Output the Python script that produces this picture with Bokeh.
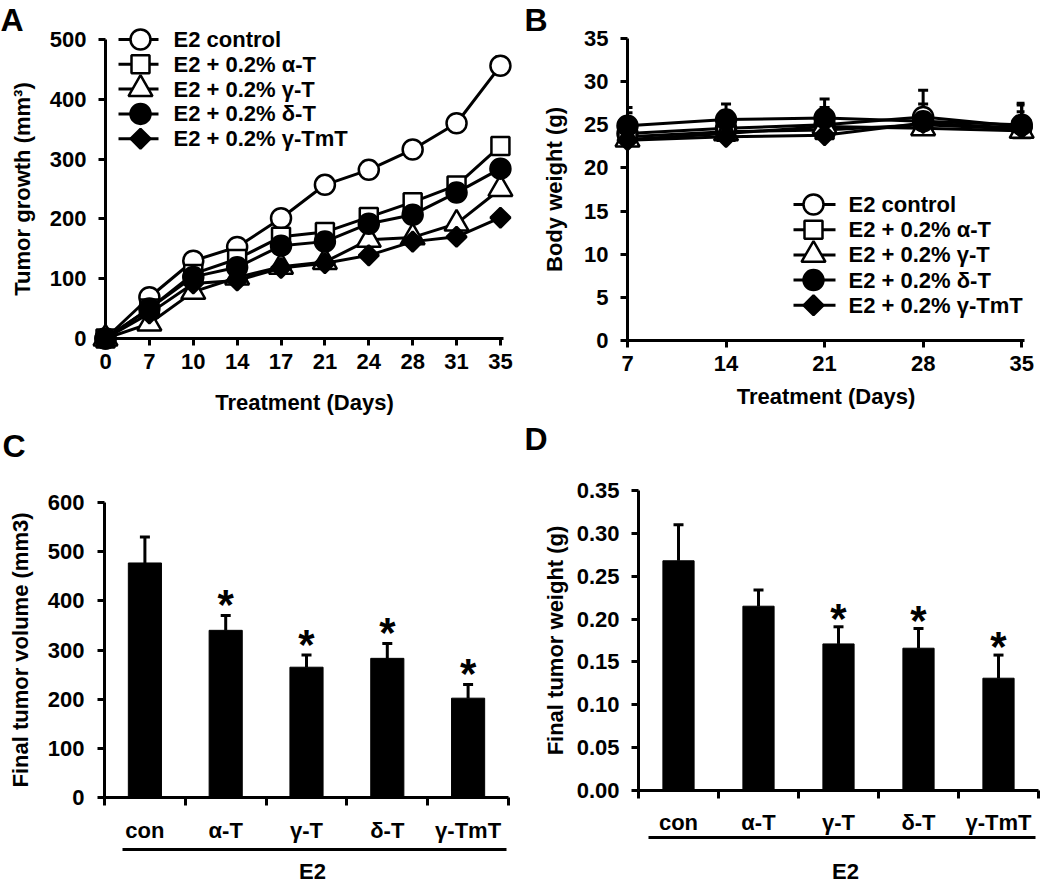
from bokeh.plotting import figure
from bokeh.layouts import column, row
from bokeh.models import (Range1d, FixedTicker, Whisker, TeeHead, ColumnDataSource,
                          NumeralTickFormatter)
from bokeh.core.properties import value
from bokeh.embed import file_html
from bokeh.resources import INLINE
import math

FONT = "Liberation Sans"

# ---------------- data ----------------
series_labels = ["E2 control", "E2 + 0.2% \u03b1-T", "E2 + 0.2% \u03b3-T",
                 "E2 + 0.2% \u03b4-T", "E2 + 0.2% \u03b3-TmT"]

# Panel A: tumor growth (mm3)
days_a = [0, 7, 10, 14, 17, 21, 24, 28, 31, 35]
a_control = [0, 69, 130, 153, 201, 257, 282, 316, 360, 456]
a_alpha = [0, 50, 108, 133, 170, 178, 203, 228, 256, 322]
a_gamma = [0, 25, 78, 102, 120, 128, 165, 169, 192, 250]
a_delta = [0, 50, 103, 119, 155, 162, 192, 207, 244, 284]
a_tmt = [0, 42, 92, 97, 118, 126, 139, 162, 170, 202]
a_control_err = [0, 4, 6, 6, 7, 8, 8, 9, 10, 15]

# Panel B: body weight (g)
days_b = [7, 14, 21, 28, 35]
b_control = [24.0, 24.6, 25.0, 25.9, 24.8]
b_alpha = [23.6, 24.2, 24.4, 25.0, 24.5]
b_gamma = [23.3, 24.0, 24.8, 24.6, 24.3]
b_delta = [24.9, 25.6, 25.8, 25.4, 25.0]
b_tmt = [23.2, 23.6, 23.8, 25.2, 24.6]
b_control_err = [3.0, 1.2, 2.0, 3.1, 2.5]
b_alpha_err = [1.5, 1.0, 1.2, 2.4, 3.0]
b_delta_err = [1.5, 1.8, 2.2, 1.5, 1.5]

# Panel C / D
groups = ["con", "\u03b1-T", "\u03b3-T", "\u03b4-T", "\u03b3-TmT"]
c_volume = [477, 340, 265, 283, 202]
c_volume_err = [53, 30, 25, 30, 28]
c_sig = [False, True, True, True, True]
d_weight = [0.268, 0.215, 0.171, 0.166, 0.131]
d_weight_err = [0.042, 0.019, 0.020, 0.023, 0.027]
d_sig = [False, False, True, True, True]

# marker styles: (marker, fill, size, angle)
styles = [("circle", "white", 20, 0.0), ("square", "white", 18, 0.0),
          ("triangle", "white", 24, 0.0), ("circle", "black", 20, 0.0),
          ("square", "black", 14, math.pi / 4)]


class Panel:
    """figure placed at page box (fx, fy, fw, fh) with plot frame (L, R, T, B) in page px."""

    def __init__(self, fx, fy, fw, fh, L, R, T, B, xr, yr):
        self.fx, self.fy, self.L, self.R, self.T, self.B = fx, fy, L, R, T, B
        self.xr, self.yr = xr, yr
        self.p = figure(width=fw, height=fh, x_range=Range1d(*xr), y_range=Range1d(*yr),
                        output_backend="svg", toolbar_location=None,
                        min_border_left=L - fx, min_border_right=fx + fw - R,
                        min_border_top=T - fy, min_border_bottom=fy + fh - B,
                        frame_align=False)
        self.p.title.visible = False
        p = self.p
        for ax in p.axis:
            ax.axis_line_width = 3
            ax.axis_line_color = "black"
            ax.major_tick_line_width = 3
            ax.major_tick_line_color = "black"
            ax.major_tick_out = 7
            ax.major_tick_in = 0
            ax.minor_tick_line_color = None
            ax.major_label_text_font = FONT
            ax.major_label_text_font_style = "bold"
            ax.major_label_text_font_size = "22px"
            ax.major_label_text_color = "black"
            ax.axis_label_text_font = FONT
            ax.axis_label_text_font_style = "bold"
            ax.axis_label_text_font_size = "22px"
            ax.axis_label_text_color = "black"
        p.grid.visible = False
        p.outline_line_color = None

    # page pixel -> data coordinate (for decorations placed outside the data)
    def dx(self, px):
        return self.xr[0] + (px - self.L) / (self.R - self.L) * (self.xr[1] - self.xr[0])

    def dy(self, py):
        return self.yr[0] + (self.B - py) / (self.B - self.T) * (self.yr[1] - self.yr[0])

    def text(self, px, py, s, size="22px", align="left", baseline="middle"):
        self.p.text(x=[self.dx(px)], y=[self.dy(py)], text=[s], text_font=value(FONT),
                    text_font_style="bold", text_font_size=size, text_align=align,
                    text_baseline=baseline, text_color="black", level="overlay")

    def letter(self, px, py, s):
        self.text(px, py, s, size="32px")

    def legend(self, first_y, step, lx0, lx1, mx, tx):
        for i, (lab, st) in enumerate(zip(series_labels, styles)):
            yy = self.dy(first_y + i * step)
            self.p.segment(x0=[self.dx(lx0)], y0=[yy], x1=[self.dx(lx1)], y1=[yy],
                           line_color="black", line_width=3, level="overlay")
            marker, fill, size, angle = st
            self.p.scatter([self.dx(mx)], [yy], marker=marker, size=size, angle=angle,
                           fill_color=fill, line_color="black", line_width=2.5,
                           level="overlay")
            self.text(tx, first_y + i * step, lab)


def add_series(p, xs, ys, style):
    marker, fill, size, angle = style
    p.line(xs, ys, line_color="black", line_width=3, level="overlay")
    p.scatter(xs, ys, marker=marker, size=size, angle=angle, fill_color=fill,
              line_color="black", line_width=2.5, level="overlay")


def upper_whisker(p, xs, ys, errs):
    src = ColumnDataSource(dict(x=xs, lo=ys, hi=[v + e for v, e in zip(ys, errs)]))
    p.add_layout(Whisker(base="x", lower="lo", upper="hi", source=src, line_width=3,
                         line_color="black",
                         upper_head=TeeHead(size=10, line_width=3), lower_head=None))


# ---------------- Panel A ----------------
pos_a = list(range(len(days_a)))
A = Panel(0, 0, 520, 422, 105, 503, 39, 338, (0, 9.07), (0, 500))
pa = A.p
pa.xaxis.ticker = FixedTicker(ticks=pos_a)
pa.xaxis.major_label_overrides = {i: str(d) for i, d in enumerate(days_a)}
pa.xaxis.major_label_standoff = 8
pa.xaxis.axis_label = "Treatment (Days)"
pa.xaxis.axis_label_standoff = 18
pa.yaxis.ticker = FixedTicker(ticks=[0, 100, 200, 300, 400, 500])
pa.yaxis.major_label_standoff = 12
pa.yaxis.axis_label = "Tumor growth (mm\u00b3)"
pa.yaxis.axis_label_standoff = 12
upper_whisker(pa, pos_a, a_control, a_control_err)
for ys, st in zip([a_control, a_alpha, a_gamma, a_delta, a_tmt], styles):
    add_series(pa, pos_a, ys, st)
A.legend(39, 24.8, 118, 158, 140, 173)
A.letter(0, 19, "A")

# ---------------- Panel B ----------------
B = Panel(520, 0, 530, 422, 627, 1024, 38, 340, (7, 35.2), (0, 35))
pb = B.p
pb.xaxis.ticker = FixedTicker(ticks=days_b)
pb.xaxis.major_label_standoff = 8
pb.xaxis.axis_label = "Treatment (Days)"
pb.xaxis.axis_label_standoff = 10
pb.yaxis.ticker = FixedTicker(ticks=[0, 5, 10, 15, 20, 25, 30, 35])
pb.yaxis.major_label_standoff = 12
pb.yaxis.axis_label = "Body weight (g)"
pb.yaxis.axis_label_standoff = 14
for ys, es in [(b_control, b_control_err), (b_alpha, b_alpha_err), (b_delta, b_delta_err)]:
    upper_whisker(pb, days_b, ys, es)
for ys, st in zip([b_control, b_alpha, b_gamma, b_delta, b_tmt], styles):
    add_series(pb, days_b, ys, st)
B.legend(204, 25.2, 793, 835, 813, 848)
B.letter(524, 19, "B")


# ---------------- Bar panels ----------------
def bar_panel(P, vals, errs, sig, yticks, ylabel, bw, star_off, cat_standoff,
              line_py, line_px0, line_px1, e2_px, e2_py):
    p = P.p
    n = len(groups)
    centers = [i + 0.5 for i in range(n)]
    p.xaxis.ticker = FixedTicker(ticks=centers, minor_ticks=list(range(n + 1)))
    p.xaxis.major_label_overrides = {c: g for c, g in zip(centers, groups)}
    p.xaxis.major_tick_out = 0
    p.xaxis.major_tick_line_color = None
    p.xaxis.minor_tick_out = 8
    p.xaxis.minor_tick_in = 0
    p.xaxis.minor_tick_line_width = 3
    p.xaxis.minor_tick_line_color = "black"
    p.xaxis.major_label_standoff = cat_standoff
    p.yaxis.ticker = FixedTicker(ticks=yticks)
    p.yaxis.axis_label = ylabel
    p.vbar(x=centers, top=vals, width=bw, fill_color="black", line_color="black")
    upper_whisker(p, centers, vals, errs)
    sx = [c for c, s in zip(centers, sig) if s]
    sy = [v + e + star_off for v, e, s in zip(vals, errs, sig) if s]
    p.text(x=sx, y=sy, text=["*"] * len(sx), text_font=value(FONT), text_font_style="bold",
           text_font_size="42px", text_align="center", text_baseline="middle",
           text_color="black", level="overlay")
    # group bracket line and its label
    p.segment(x0=[P.dx(line_px0)], y0=[P.dy(line_py)], x1=[P.dx(line_px1)],
              y1=[P.dy(line_py)], line_color="black", line_width=3, level="overlay")
    P.text(e2_px, e2_py, "E2", align="center")


C = Panel(0, 422, 520, 462, 104, 508, 502, 797, (0, 5), (0, 600))
bar_panel(C, c_volume, c_volume_err, c_sig, [0, 100, 200, 300, 400, 500, 600],
          "Final tumor volume (mm3)", 0.41, 22, 12, 849, 122, 506, 312, 871)
C.p.yaxis.major_label_standoff = 13
C.p.yaxis.axis_label_standoff = 12
C.letter(2, 445, "C")

D = Panel(520, 422, 530, 462, 638, 1038, 490, 790, (0, 5), (0, 0.35))
bar_panel(D, d_weight, d_weight_err, d_sig, [0, 0.05, 0.10, 0.15, 0.20, 0.25, 0.30, 0.35],
          "Final tumor weight (g)", 0.39, 0.0095, 11, 837, 648, 1035, 845, 871)
D.p.yaxis.formatter = NumeralTickFormatter(format="0.00")
D.p.yaxis.major_label_standoff = 12
D.p.yaxis.axis_label_standoff = 6
D.letter(524, 438, "D")

layout = column(row(A.p, B.p), row(C.p, D.p))
open("out.html", "w").write(file_html(layout, INLINE))
